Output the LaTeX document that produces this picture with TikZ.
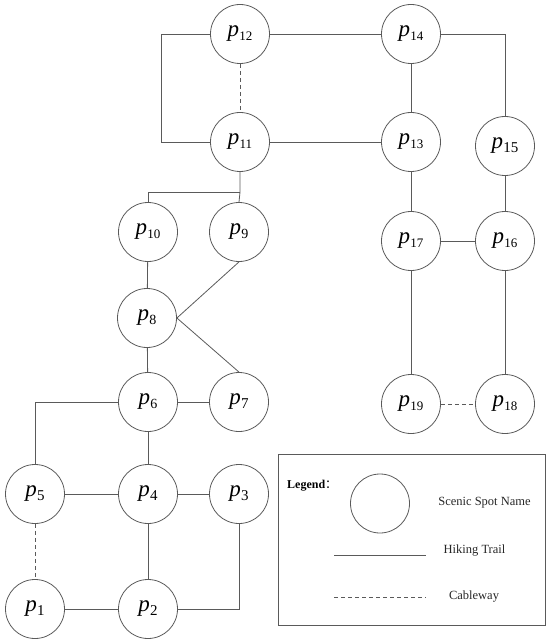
\documentclass[tikz,border=0pt]{standalone}
\usepackage{fontspec}
\setmainfont{Liberation Serif}
\newfontfamily\cjk{Noto Sans CJK SC}
\definecolor{linegray}{HTML}{5A5A5A}
\newcommand{\spotlbl}[2][13]{\fontsize{23}{23}\selectfont\textit{p}\kern0.3pt\raisebox{-3.5pt}{\fontsize{#1}{#1}\selectfont #2}}
\tikzset{
  spot/.style={circle, draw=linegray, line width=0.8pt, minimum size=59pt, inner sep=0pt},
  trail/.style={draw=linegray, line width=0.8pt},
  cable/.style={trail, dash pattern=on 4pt off 3pt},
  legtext/.style={font=\fontsize{12.5}{14}\selectfont, text=black!85, inner sep=0pt}
}
\begin{document}
\begin{tikzpicture}[x=1pt,y=-1pt]
\useasboundingbox (0,0) rectangle (550,644);
% spots
\node[spot] (p12) at (240,34) {\spotlbl{12}};
\node[spot] (p14) at (411,34) {\spotlbl{14}};
\node[spot] (p11) at (240,142) {\spotlbl{11}};
\node[spot] (p13) at (411,142) {\spotlbl{13}};
\node[spot] (p15) at (505,146) {\spotlbl[15]{15}};
\node[spot] (p10) at (148,232) {\spotlbl{10}};
\node[spot] (p9) at (239,232) {\spotlbl[14]{9}};
\node[spot] (p17) at (411,241) {\spotlbl{17}};
\node[spot] (p16) at (505,241) {\spotlbl{16}};
\node[spot] (p8) at (147,318) {\spotlbl[14]{8}};
\node[spot] (p6) at (148,402) {\spotlbl[14]{6}};
\node[spot] (p7) at (239,402) {\spotlbl[15]{7}};
\node[spot] (p19) at (411,404) {\spotlbl{19}};
\node[spot] (p18) at (505,404) {\spotlbl{18}};
\node[spot] (p5) at (35,494) {\spotlbl[15]{5}};
\node[spot] (p4) at (148,494) {\spotlbl[15]{4}};
\node[spot] (p3) at (239,494) {\spotlbl[15]{3}};
\node[spot] (p1) at (35,609) {\spotlbl[15]{1}};
\node[spot] (p2) at (148,609) {\spotlbl[15]{2}};
\coordinate (j1) at (240,192);
% connectors
\draw[trail] (p12.west) -- ++(-49,0) coordinate (cl) |- (p11.west);
\draw[trail] (p12) -- (p14);
\draw[cable] (p12) -- (p11);
\draw[trail] (p11) -- (p13);
\draw[trail] (p14) -- (p13);
\draw[trail] (p14.east) -| (p15.north);
\draw[trail] (p13) -- (p17);
\draw[trail] (p15) -- (p16);
\draw[trail] (p17) -- (p16);
\draw[trail] (p17) -- (p19);
\draw[trail] (p16) -- (p18);
\draw[cable] (p19) -- (p18);
\draw[trail] (p11.south) -- (j1) -- (p9.north);
\draw[trail] (p10.north) |- (j1);
\draw[trail] (p10) -- (p8);
\draw[trail] (p9.south) -- (p8.east);
\draw[trail] (p8.east) -- (p7.north);
\draw[trail] (p8) -- (p6);
\draw[trail] (p6) -- (p7);
\draw[trail] (p6.west) -| (p5.north);
\draw[trail] (p6) -- (p4);
\draw[trail] (p5) -- (p4);
\draw[trail] (p4) -- (p3);
\draw[cable] (p5) -- (p1);
\draw[trail] (p4) -- (p2);
\draw[trail] (p1) -- (p2);
\draw[trail] (p3.south) |- (p2.east);
% legend
\node[draw=linegray, line width=0.8pt, minimum width=267pt, minimum height=171pt, inner sep=0pt] (legend) at (411.5,539.5) {};
\node[anchor=west, inner sep=0pt, font=\fontsize{12}{14}\selectfont\bfseries] (legtitle) at (287,486) {Legend{\cjk\mdseries ：}};
\node[spot] (legspot) at (380,503.5) {};
\node[legtext] (legspottxt) at (484.5,503) {Scenic Spot Name};
\coordinate (ls1) at (334,555);
\coordinate (ls2) at (426,555);
\draw[trail] (ls1) -- (ls2);
\node[legtext] (legtrail) at (474.5,551) {Hiking Trail};
\coordinate (lc1) at (334,597);
\coordinate (lc2) at (426,597);
\draw[cable] (lc1) -- (lc2);
\node[legtext] (legcable) at (474,597) {Cableway};
\end{tikzpicture}
\end{document}
